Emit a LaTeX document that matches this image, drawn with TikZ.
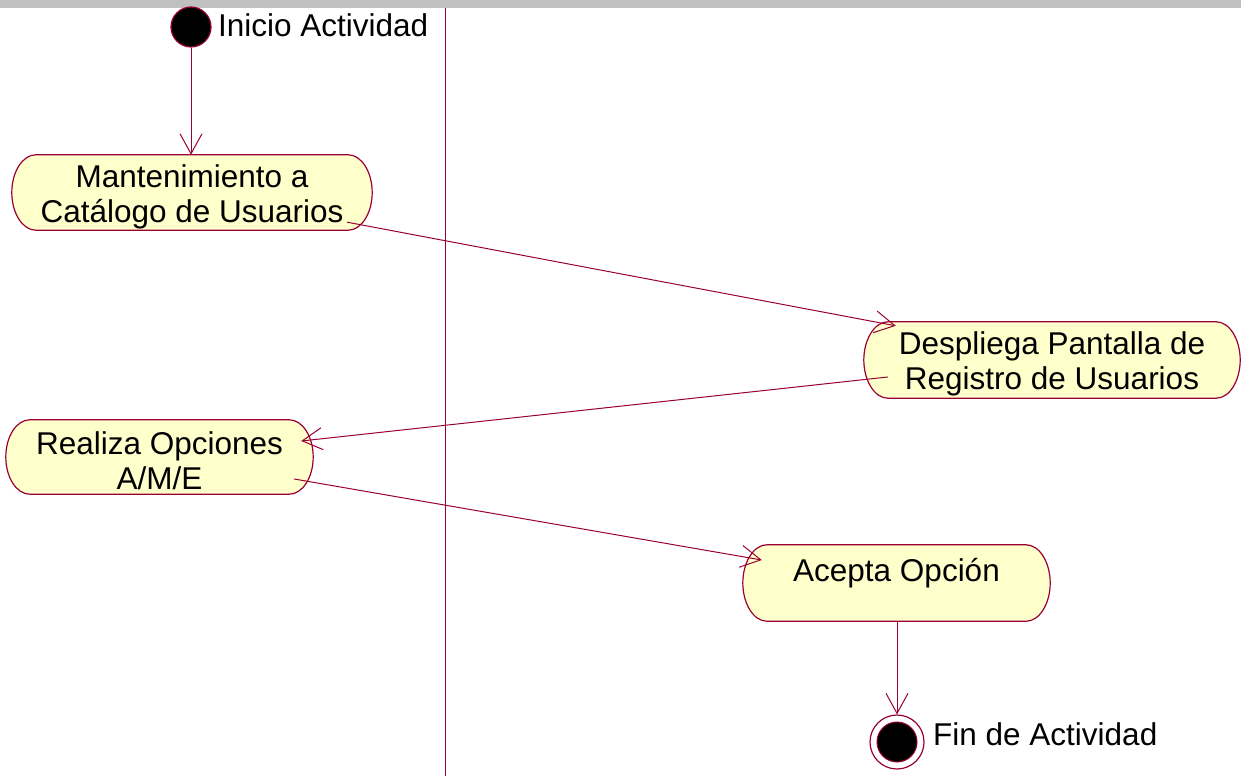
\documentclass[tikz,border=0pt]{standalone}
\usepackage{fontspec}
\setmainfont{Liberation Sans}
\usetikzlibrary{arrows.meta,backgrounds}

\definecolor{umlline}{HTML}{990033}
\definecolor{umlfill}{HTML}{FFFFCC}
\definecolor{barfill}{HTML}{C0C0C0}

\tikzset{
  flow/.style={draw=umlline, line width=1pt,
    -{Straight Barb[length=20pt,width=22pt,line width=1pt]}},
  actbox/.style={inner sep=0pt},
  acttext/.style={inner sep=0pt, align=center,
    font=\fontsize{31.5}{35}\selectfont},
  outline/.style={draw=umlline, line width=1.2pt, fill=umlfill},
  lbl/.style={inner sep=0pt, font=\fontsize{31.5}{35}\selectfont},
}

% activity: name, centre x, centre y, width, height, text
\newcommand\activity[6]{%
  \node[actbox, minimum width=#4, minimum height=#5] (#1) at (#2,#3) {};
  \node[acttext, yshift=-4pt] (#1-text) at (#1.center) {#6};
  \begin{pgfonlayer}{background}
    \path[outline]
      ([xshift=24pt]#1.north west) -- ([xshift=-24pt]#1.north east)
      .. controls ([xshift=-10.7pt]#1.north east) and ([yshift=20.5pt]#1.east) .. (#1.east)
      .. controls ([yshift=-20.5pt]#1.east) and ([xshift=-10.7pt]#1.south east) .. ([xshift=-24pt]#1.south east)
      -- ([xshift=24pt]#1.south west)
      .. controls ([xshift=10.7pt]#1.south west) and ([yshift=-20.5pt]#1.west) .. (#1.west)
      .. controls ([yshift=20.5pt]#1.west) and ([xshift=10.7pt]#1.north west) .. cycle;
  \end{pgfonlayer}}

\begin{document}
\begin{tikzpicture}[x=1pt,y=-1pt]
  \useasboundingbox (0,0) rectangle (1241,776);

  % header bar and swimlane divider
  \fill[barfill] (0,0) rectangle (1241,8);
  \coordinate (laneTop) at (445,8);
  \coordinate (laneBottom) at (445,776);
  \draw[umlline, line width=1pt] (laneTop) -- (laneBottom);

  % initial state
  \node[circle, draw=umlline, line width=1.2pt, fill=black,
        minimum size=40pt, inner sep=0pt] (start) at (191,27) {};
  \node[lbl, anchor=base west] (startLabel) at (218,37) {Inicio Actividad};

  % activities
  \activity{mant}{192}{192.5}{360pt}{75pt}{Mantenimiento a\\Catálogo de Usuarios}
  \activity{desp}{1052}{360}{376pt}{76pt}{Despliega Pantalla de\\Registro de Usuarios}
  \activity{real}{159.5}{457}{307pt}{74pt}{Realiza Opciones\\A/M/E}
  \activity{acep}{896.5}{583}{307pt}{76pt}{Acepta Opción\\\mbox{}}

  % final state
  \node[circle, draw=umlline, line width=1.2pt, fill=white,
        minimum size=54pt, inner sep=0pt] (final) at (897,742) {};
  \node[circle, draw=umlline, line width=1pt, fill=black,
        minimum size=40pt, inner sep=0pt] (finalDot) at (final.center) {};
  \node[lbl, anchor=base west] (finalLabel) at (933,745) {Fin de Actividad};

  % transitions
  \draw[flow] (start.south) -- (start.south |- mant.north);
  \draw[flow] ([xshift=-25pt,yshift=8pt]mant.south east)
           -- ([xshift=32pt,yshift=-4pt]desp.north west);
  \draw[flow] ([xshift=24pt,yshift=-17pt]desp.west)
           -- ([xshift=-12pt,yshift=16pt]real.east);
  \draw[flow] ([xshift=-19pt,yshift=-22pt]real.east)
           -- ([xshift=19pt,yshift=23pt]acep.west);
  \draw[flow] (acep.south -| final.north) -- (final.north);
\end{tikzpicture}
\end{document}
